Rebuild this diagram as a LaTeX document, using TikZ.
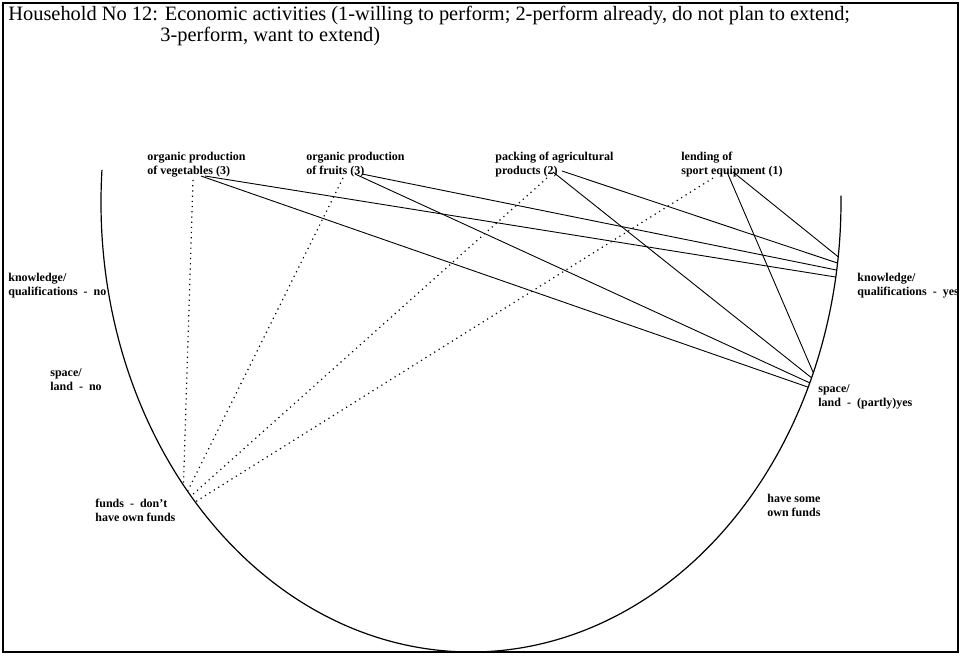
\documentclass[tikz,border=0pt]{standalone}
\usepackage{fontspec}
\setmainfont{Liberation Serif}
\usepackage{tikz}
\tikzstyle{activity}=[anchor=north west,align=left,inner sep=0pt,font=\fontsize{6}{7}\selectfont\bfseries]
\tikzstyle{feature}=[activity]
\tikzstyle{heading}=[anchor=west,inner sep=0pt,font=\fontsize{10.2}{12}\selectfont]
\tikzstyle{has}=[line width=0.45pt]
\tikzstyle{lacks}=[line width=0.6pt,dotted]

\begin{document}
\begin{tikzpicture}[x=0.5pt,y=-0.5pt]
        \useasboundingbox (0,0) rectangle (964,655);
        \draw[line width=1pt] (3,3) rectangle (958,652);
        \node[heading] (title1) at (8,16) {Household No 12: Economic activities (1-willing to perform; 2-perform already, do not plan to extend;};
        \node[heading] (title2) at (160,36) {3-perform, want to extend)};
        % the half ring
        \draw[line width=0.6pt] (471,202) ++(184.1:370 and 450) arc[start angle=184.1, end angle=-0.8, x radius=370, y radius=450];
        % activities
        \node[activity] (veg) at (147,152) {organic production\\of vegetables (3)};
        \node[activity] (fruit) at (306,152) {organic production\\of fruits (3)};
        \node[activity] (pack) at (495,152) {packing of agricultural\\products (2)};
        \node[activity] (lend) at (681,152) {lending of\\sport equipment (1)};
        % features
        \node[feature] (know-no) at (8,273) {knowledge/\\qualifications\ \ -\ \ no};
        \node[feature] (land-no) at (50,368) {space/\\land\ \ -\ \ no};
        \node[feature] (funds-no) at (95,499) {funds\ \ -\ \ don't\\have own funds};
        \node[feature] (know-yes) at (857,273) {knowledge/\\qualifications\ \ -\ \ yes};
        \node[feature] (land-yes) at (818,384) {space/\\land\ \ -\ \ (partly)yes};
        \node[feature] (funds-yes) at (767,494) {have some\\own funds};
        % line ends under the activities
        \coordinate (veg-d) at (193,180);
        \coordinate (veg-s) at (201,176);
        \coordinate (veg-k) at (205,176);
        \coordinate (fruit-d) at (343,178);
        \coordinate (fruit-s) at (355,174);
        \coordinate (fruit-k) at (362,174);
        \coordinate (pack-d) at (547,178);
        \coordinate (pack-s) at (553,172);
        \coordinate (pack-k) at (562,171);
        \coordinate (lend-d) at (713,178);
        \coordinate (lend-s) at (727,172);
        \coordinate (lend-k) at (733,172);
        % line ends on the ring
        \path (471,202) ++(7.0:370 and 450) coordinate (k1)
              (471,202) ++(7.8:370 and 450) coordinate (k2)
              (471,202) ++(8.7:370 and 450) coordinate (k3)
              (471,202) ++(9.6:370 and 450) coordinate (k4)
              (471,202) ++(22.3:370 and 450) coordinate (s1)
              (471,202) ++(23.0:370 and 450) coordinate (s2)
              (471,202) ++(23.7:370 and 450) coordinate (s3)
              (471,202) ++(24.3:370 and 450) coordinate (s4)
              (471,202) ++(141.0:370 and 450) coordinate (f1)
              (471,202) ++(140.0:370 and 450) coordinate (f2)
              (471,202) ++(139.2:370 and 450) coordinate (f3)
              (471,202) ++(138.2:370 and 450) coordinate (f4);
        \draw[lacks] (veg-d) -- (f1);
        \draw[lacks] (fruit-d) -- (f2);
        \draw[lacks] (pack-d) -- (f3);
        \draw[lacks] (lend-d) -- (f4);
        \draw[has] (lend-k) -- (k1);
        \draw[has] (pack-k) -- (k2);
        \draw[has] (fruit-k) -- (k3);
        \draw[has] (veg-k) -- (k4);
        \draw[has] (lend-s) -- (s1);
        \draw[has] (pack-s) -- (s2);
        \draw[has] (fruit-s) -- (s3);
        \draw[has] (veg-s) -- (s4);
\end{tikzpicture}
\end{document}
